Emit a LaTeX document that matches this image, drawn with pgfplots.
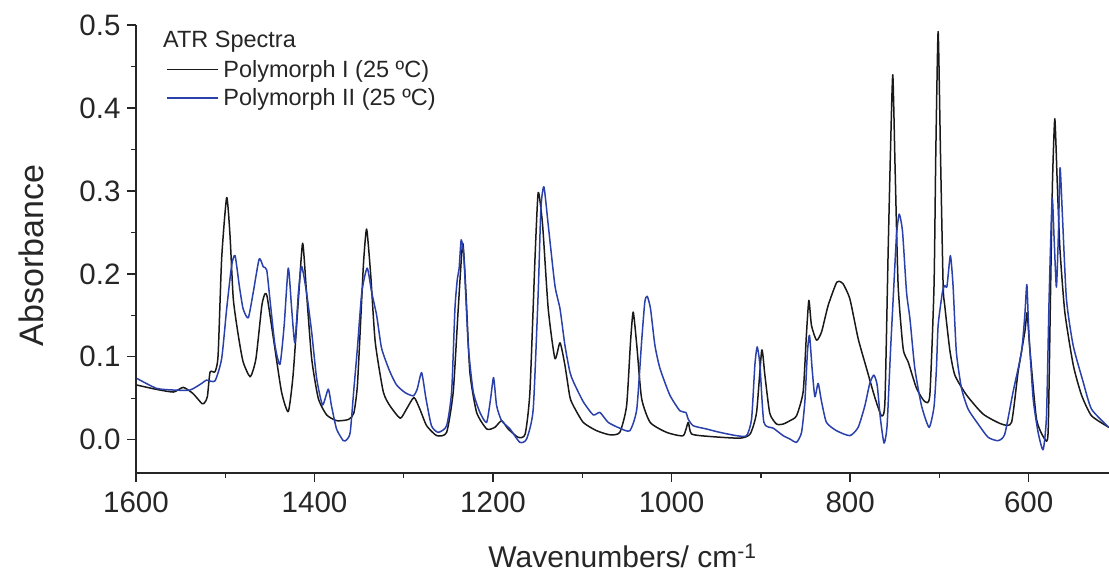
\documentclass[border=0pt]{standalone}
\usepackage{fontspec}
\setmainfont{Liberation Sans}
\usepackage{pgfplots}
\pgfplotsset{compat=1.18}
\definecolor{blueline}{RGB}{42,64,170}
\definecolor{blackline}{RGB}{25,25,25}
\begin{document}
\begin{tikzpicture}
\begin{axis}[
  name=ax,
  scale only axis,
  width=973pt, height=448pt,
  xmin=510, xmax=1600, x dir=reverse,
  ymin=-0.04, ymax=0.5,
  axis x line*=bottom, axis y line*=left,
  axis line style={line width=1.3pt, black!85},
  xtick={600,800,1000,1200,1400,1600},
  ytick={0,0.1,0.2,0.3,0.4,0.5},
  minor x tick num=1, minor y tick num=1,
  tick align=outside,
  major tick length=9pt, minor tick length=5pt,
  every tick/.style={line width=1.3pt, black!85},
  /pgf/number format/assume math mode=true,
  x tick label style={yshift=-6pt, /pgf/number format/.cd, set thousands separator={}},
  y tick label style={xshift=-3pt, /pgf/number format/.cd, fixed, fixed zerofill, precision=1},
  tick label style={font=\fontsize{29.5}{31}\selectfont, text=black!85},
  xlabel={Wavenumbers/ cm\textsuperscript{-1}},
  ylabel={Absorbance},
  xlabel style={font=\fontsize{30}{32}\selectfont, at={(axis description cs:0.5,-0.185)}, anchor=center, text=black!85},
  ylabel style={font=\fontsize{34}{36}\selectfont, at={(axis description cs:-0.108,0.485)}, anchor=center, text=black!85},
  legend style={draw=none, fill=none, at={(axis description cs:0.0305,0.926)}, anchor=north west,
    inner sep=0pt, row sep=6pt, column sep=3pt, font=\fontsize{23.5}{26}\selectfont, text=black!85,
    nodes={inner sep=2pt}},
  legend cell align=left,
  legend image code/.code={\draw[#1, line width=1.5pt] (0pt,0pt) -- (51pt,0pt);},
  every axis plot/.append style={line width=1.5pt, line join=round, smooth, tension=0.35},
]
\addplot[blackline] coordinates {
(1599,0.066) (1578,0.061) (1558,0.0576) (1547,0.0632) (1536,0.0556) (1526,0.0435) (1523,0.045)
(1520,0.052) (1517,0.0817) (1511.5,0.082) (1508,0.102) (1504,0.219) (1498.4,0.292) (1494.7,0.247)
(1491,0.170) (1485.4,0.126) (1480,0.094) (1472,0.076) (1465.6,0.098) (1459,0.162) (1455.5,0.176)
(1453,0.172) (1446,0.122) (1437,0.058) (1429.4,0.034) (1424,0.078) (1418,0.170) (1413.3,0.237)
(1409,0.178) (1403.2,0.098) (1395.8,0.050) (1386.4,0.030) (1375,0.023) (1362,0.0245) (1356,0.032)
(1352,0.065) (1348,0.15) (1345,0.215) (1341.6,0.254) (1337,0.198) (1332,0.118) (1323,0.058)
(1315.5,0.041) (1304,0.026) (1297,0.037) (1288.6,0.051) (1282,0.037) (1274.4,0.017) (1263,0.005)
(1252,0.009) (1244.6,0.058) (1239,0.158) (1234,0.237) (1230.4,0.178) (1226,0.082) (1218.4,0.033)
(1207,0.013) (1198,0.015) (1190.4,0.023) (1183,0.013) (1171.8,0.003) (1164,0.007) (1158.7,0.058)
(1153,0.219) (1149.4,0.298) (1144.5,0.259) (1138.2,0.158) (1130.7,0.098) (1125,0.117) (1119.5,0.090)
(1114,0.052) (1110,0.041) (1099,0.021) (1084,0.011) (1069,0.006) (1058,0.009) (1050.4,0.041)
(1046,0.118) (1043,0.154) (1039,0.114) (1033.6,0.050) (1024,0.021) (1005.6,0.009) (987,0.005)
(981.4,0.021) (977.6,0.007) (957,0.004) (923.5,0.002) (912,0.007) (904.8,0.033) (899,0.108)
(895.5,0.078) (890,0.032) (882.4,0.019) (875,0.019) (867.5,0.023) (860,0.029) (852.6,0.058)
(849,0.126) (846.2,0.168) (843.3,0.138) (837.6,0.120) (832,0.130) (824.6,0.162) (815,0.190)
(810,0.190) (807.8,0.188) (800.3,0.170) (791,0.122) (781.6,0.086) (772,0.050) (764.8,0.029)
(761,0.046) (757.4,0.227) (754.8,0.347) (752.2,0.440) (749.6,0.327) (746.2,0.186) (740.6,0.110)
(735,0.094) (725.6,0.062) (716.3,0.046) (710.7,0.054) (706,0.186) (704,0.347) (701.4,0.492)
(698.8,0.347) (695.8,0.186) (694,0.162) (688.3,0.108) (682.7,0.078) (669.6,0.054) (651,0.031)
(630.4,0.019) (619.2,0.021) (611.8,0.082) (604.3,0.130) (601.7,0.153) (598.7,0.110) (591.2,0.025)
(582,0.001) (578.2,0.009) (575.6,0.170) (573.3,0.311) (570.7,0.387) (568,0.311) (565,0.231)
(559.5,0.154) (550,0.090) (540.8,0.054) (529.6,0.029) (510,0.015)
};
\addlegendentry{Polymorph I (25 ºC)}
\addplot[blueline] coordinates {
(1599,0.074) (1577,0.062) (1558,0.060) (1539.5,0.060) (1526.4,0.068) (1521,0.072) (1511.5,0.071)
(1504,0.098) (1498.4,0.158) (1492.8,0.2105) (1489,0.222) (1484.3,0.186) (1480,0.158) (1474.2,0.147)
(1468.6,0.178) (1462,0.218) (1457.4,0.2085) (1453.6,0.205) (1450,0.170) (1444.3,0.114) (1438.7,0.091)
(1434,0.138) (1429.4,0.207) (1425.6,0.158) (1422,0.117) (1418,0.178) (1414.4,0.209) (1409,0.178)
(1403.2,0.130) (1397.6,0.074) (1391,0.042) (1384.6,0.061) (1381,0.041) (1375.3,0.013) (1367.8,-0.001)
(1364,0.0) (1360,0.009) (1356,0.06) (1352,0.11) (1347,0.178) (1341,0.207) (1336,0.178) (1330.4,0.150)
(1324.8,0.110) (1315.5,0.082) (1308,0.066) (1298.7,0.057) (1289.4,0.053) (1285,0.061) (1280,0.081)
(1275.2,0.050) (1269,0.017) (1261.4,0.009) (1252,0.017) (1246.4,0.058) (1242.7,0.158) (1240,0.194)
(1238,0.2065) (1235.7,0.241) (1232.6,0.219) (1227.8,0.114) (1222.2,0.058) (1214.7,0.033) (1207.2,0.021)
(1202.7,0.050) (1199.4,0.075) (1196,0.041) (1190.4,0.023) (1181,0.013) (1170,-0.003) (1162.4,0.001)
(1155,0.037) (1149.4,0.178) (1146.4,0.279) (1143,0.305) (1138.2,0.259) (1130.7,0.186) (1125,0.158)
(1119.5,0.114) (1114,0.082) (1110,0.070) (1099,0.046) (1087.8,0.030) (1080.3,0.033) (1071,0.021)
(1058,0.014) (1046.7,0.011) (1039,0.037) (1033.6,0.118) (1030,0.166) (1027.3,0.173) (1023.6,0.158)
(1018.7,0.114) (1013,0.086) (1002,0.054) (990.7,0.035) (984,0.033) (981.4,0.025) (975.8,0.017)
(960.8,0.013) (946,0.009) (927.2,0.005) (916,0.005) (910.4,0.025) (906.7,0.090) (904.1,0.112)
(901,0.090) (896.6,0.021) (886,0.014) (875,0.005) (867.5,0.001) (860,-0.003) (854.4,0.009)
(850.7,0.046) (847.8,0.106) (845.5,0.126) (842.6,0.086) (839.5,0.052) (835.8,0.068) (832,0.046)
(826.5,0.021) (815.3,0.011) (800.3,0.005) (791,0.015) (783.5,0.041) (778,0.068) (773.4,0.078)
(769.7,0.066) (766,0.025) (762,-0.004) (758.6,0.017) (754.8,0.106) (751,0.186) (748,0.247)
(745,0.272) (741.3,0.251) (736.8,0.178) (733,0.146) (727.5,0.086) (720,0.041) (711.5,0.015)
(706,0.04) (703.3,0.086) (701.4,0.138) (696.6,0.178) (694,0.186) (691.5,0.185) (687.7,0.222)
(684.7,0.186) (681,0.106) (675.2,0.062) (667.8,0.037) (656.6,0.019) (645.4,0.003) (634.2,-0.001)
(626.7,0.007) (617.4,0.058) (608,0.106) (604.3,0.150) (602,0.187) (599.8,0.130) (595,0.050)
(589.4,0.009) (583.8,-0.012) (580,0.029) (577.1,0.170) (573.7,0.291) (571.5,0.243) (568.9,0.184)
(566.6,0.251) (564.8,0.328) (562.2,0.271) (557.7,0.170) (550.2,0.114) (539,0.070) (529.6,0.037)
(510.2,0.015)
};
\addlegendentry{Polymorph II (25 ºC)}
\node[anchor=west, inner sep=0pt, font=\fontsize{23.5}{26}\selectfont, text=black!85]
  at (axis description cs:0.0277,0.962) {ATR Spectra};
\end{axis}
\pgfresetboundingbox
\path ([shift={(-136pt,-103pt)}]ax.south west) rectangle ([shift={(0pt,25pt)}]ax.north east);
\end{tikzpicture}
\end{document}
